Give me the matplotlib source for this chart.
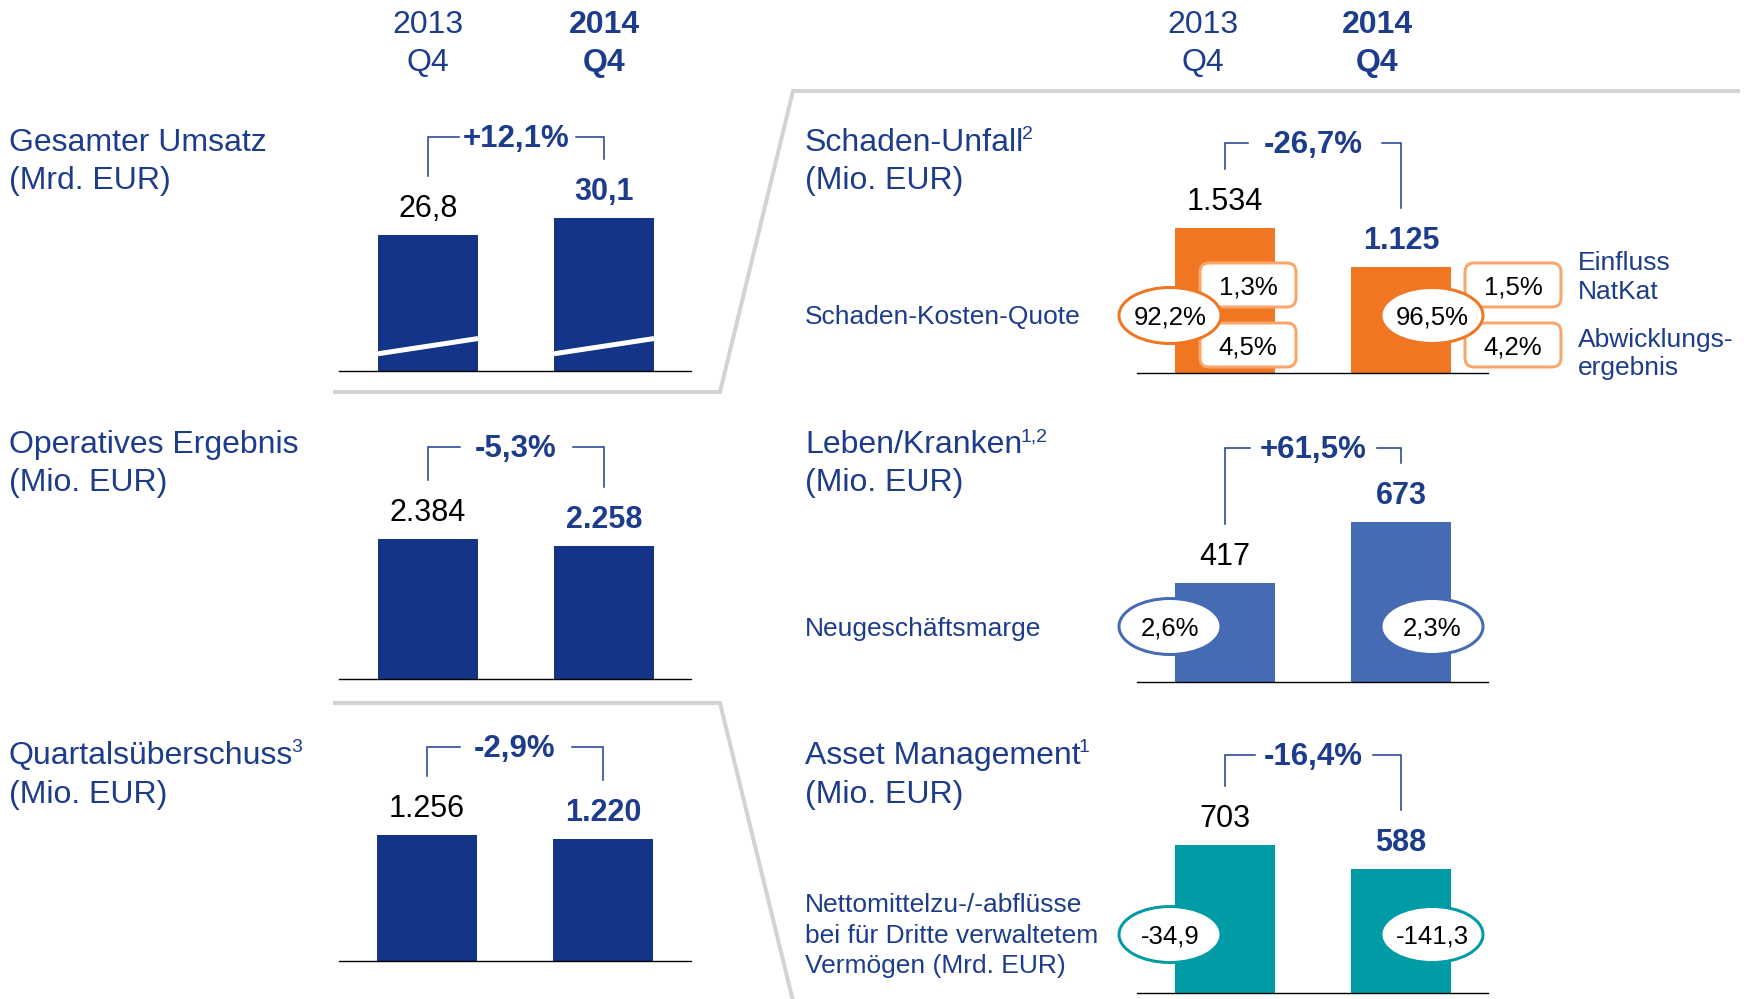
import matplotlib
matplotlib.use("Agg")
import matplotlib.pyplot as plt
from matplotlib.patches import Ellipse, FancyBboxPatch

plt.rcParams["font.family"] = ["Liberation Sans", "DejaVu Sans"]

# ---------------- data ----------------
periods = ["2013", "2014"]
quarter = "Q4"

revenue_values = [26.8, 30.1]
revenue_labels = ["26,8", "30,1"]
revenue_change = "+12,1%"

operating_values = [2384, 2258]
operating_labels = ["2.384", "2.258"]
operating_change = "-5,3%"

netincome_values = [1256, 1220]
netincome_labels = ["1.256", "1.220"]
netincome_change = "-2,9%"

pc_values = [1534, 1125]
pc_labels = ["1.534", "1.125"]
pc_change = "-26,7%"
pc_combined_ratio = ["92,2%", "96,5%"]
pc_natcat = ["1,3%", "1,5%"]
pc_runoff = ["4,5%", "4,2%"]

lh_values = [417, 673]
lh_labels = ["417", "673"]
lh_change = "+61,5%"
lh_nbm = ["2,6%", "2,3%"]

am_values = [703, 588]
am_labels = ["703", "588"]
am_change = "-16,4%"
am_flows = ["-34,9", "-141,3"]

# ---------------- style ----------------
W, H, DPI = 1747, 999, 100
NAVY = "#133487"
TXT = "#1d3c8c"
LIFE = "#456bb4"
ORANGE = "#f07621"
ORANGE_LIGHT = "#f9a66a"
TEAL = "#009ca6"
GRAY = "#d3d3d3"
CAP = 0.716


def pt(p):
    return p * 72 / DPI


fig = plt.figure(figsize=(W / DPI, H / DPI), dpi=DPI)
fig.patch.set_facecolor("white")


def bar_axes(x0, x1, c1, c2, base, ppu, values, color):
    axh = 230
    ax = fig.add_axes([x0 / W, (H - base) / H, (x1 - x0) / W, axh / H])
    span = c2 - c1
    ax.set_xlim(-(c1 - x0) / span, 1 + (x1 - c2) / span)
    ax.set_ylim(0, axh / ppu)
    bw = 100 / span
    ax.bar([0, 1], values, width=bw, color=color, linewidth=0, zorder=2)
    ax.axhline(0, color="black", lw=1.0, zorder=3, clip_on=False)
    ax.axis("off")
    ax.patch.set_alpha(0)
    return ax, bw


def value_labels(ax, values, labels):
    for i, (v, lab) in enumerate(zip(values, labels)):
        ax.annotate(lab, (i, v), xytext=(0, pt(18)), textcoords="offset points",
                    ha="center", va="baseline", fontsize=22,
                    color="black" if i == 0 else TXT,
                    fontweight="normal" if i == 0 else "bold",
                    annotation_clip=False)


ax1, bw1 = bar_axes(339, 691, 428, 604, 370.5, 5.07, revenue_values, NAVY)
for i in range(2):
    ax1.plot([i - bw1 / 2, i + bw1 / 2], [3.3, 6.3], color="white", lw=pt(5),
             solid_capstyle="butt", zorder=4)
value_labels(ax1, revenue_values, revenue_labels)

ax2, _ = bar_axes(339, 691, 428, 604, 679, 0.0587, operating_values, NAVY)
value_labels(ax2, operating_values, operating_labels)

ax3, _ = bar_axes(339, 691, 427, 603, 961, 0.100, netincome_values, NAVY)
value_labels(ax3, netincome_values, netincome_labels)

ax4, _ = bar_axes(1137, 1488, 1225, 1401, 373, 0.0945, pc_values, ORANGE)
value_labels(ax4, pc_values, pc_labels)

ax5, _ = bar_axes(1137, 1488, 1225, 1401, 682, 0.2374, lh_values, LIFE)
value_labels(ax5, lh_values, lh_labels)

ax6, _ = bar_axes(1137, 1488, 1225, 1401, 993, 0.2105, am_values, TEAL)
value_labels(ax6, am_values, am_labels)

# ---------------- overlay ----------------
ov = fig.add_axes([0, 0, 1, 1])
ov.set_xlim(0, W)
ov.set_ylim(H, 0)
ov.axis("off")
ov.patch.set_alpha(0)


def text(x, base, s, size, color=TXT, weight="normal", ha="left"):
    return ov.text(x, base, s, fontsize=size, color=color, fontweight=weight,
                   ha=ha, va="baseline")


def cap_base(yc, size):
    return yc + CAP * size * DPI / 72 / 2


def sup(t, s, base, size_main, size=14):
    top = base - CAP * size_main * DPI / 72
    ov.annotate(s, xy=(1.0, top - 2), xycoords=(t, "data"), xytext=(-1.5, 0),
                textcoords="offset points", ha="left", va="top",
                fontsize=size, color=TXT)


def top_px(ax, i, v):
    x, y = ax.transData.transform((i, v))
    return x, H - y


def bracket(ax, values, change, ybr, segl, segr):
    xa, ta = top_px(ax, 0, values[0])
    xb, tb = top_px(ax, 1, values[1])
    gap = 59
    ov.plot([xa, xa, xa + segl], [ta - gap, ybr, ybr], color=TXT, lw=1.1,
            solid_joinstyle="miter")
    ov.plot([xb - segr, xb, xb], [ybr, ybr, tb - gap], color=TXT, lw=1.1,
            solid_joinstyle="miter")
    text((xa + xb) / 2, cap_base(ybr, 22.5) - 1, change, 22.5, weight="bold", ha="center")


bracket(ax1, revenue_values, revenue_change, 137, 31, 28)
bracket(ax2, operating_values, operating_change, 447, 32, 31)
bracket(ax3, netincome_values, netincome_change, 747, 33, 31)
bracket(ax4, pc_values, pc_change, 143, 23, 19)
bracket(ax5, lh_values, lh_change, 448, 25, 24)
bracket(ax6, am_values, am_change, 755, 30, 28)

# headers
for xs in ([428, 604], [1203, 1377]):
    for x, p, wt in zip(xs, periods, ["normal", "bold"]):
        text(x, 33, p, 23, weight=wt, ha="center")
        text(x, 71, quarter, 23, weight=wt, ha="center")

# titles left
text(9, 151, "Gesamter Umsatz", 23)
text(9, 189, "(Mrd. EUR)", 23)
text(9, 453, "Operatives Ergebnis", 23)
text(9, 491, "(Mio. EUR)", 23)
t = text(9, 764, "Quartalsüberschuss", 23)
sup(t, "3", 764, 23)
text(9, 803, "(Mio. EUR)", 23)

# titles right
t = text(805, 151, "Schaden-Unfall", 23)
sup(t, "2", 151, 23)
text(805, 189, "(Mio. EUR)", 23)
t = text(805, 453, "Leben/Kranken", 23)
sup(t, "1,2", 453, 23)
text(805, 491, "(Mio. EUR)", 23)
t = text(805, 764, "Asset Management", 23)
sup(t, "1", 764, 23)
text(805, 803, "(Mio. EUR)", 23)

# side labels
text(805, 324, "Schaden-Kosten-Quote", 19)
text(805, 636, "Neugeschäftsmarge", 19)
text(805, 912, "Nettomittelzu-/-abflüsse", 19)
text(805, 943, "bei für Dritte verwaltetem", 19)
text(805, 973, "Vermögen (Mrd. EUR)", 19)

text(1578, 270, "Einfluss", 19)
text(1578, 299, "NatKat", 19)
text(1578, 347, "Abwicklungs-", 19)
text(1578, 375, "ergebnis", 19)

# gray frames
ov.plot([333, 720, 793, 1740], [392, 392, 91, 91], color=GRAY, lw=pt(4),
        solid_joinstyle="miter", solid_capstyle="butt")
ov.plot([333, 720, 794], [703, 703, 1005], color=GRAY, lw=pt(4),
        solid_joinstyle="miter", solid_capstyle="butt")

# rounded boxes (NatKat / run-off)
for bx, nat, run in zip([1200, 1465], pc_natcat, pc_runoff):
    for by, s in zip([263, 323], [nat, run]):
        ov.add_patch(FancyBboxPatch((bx, by), 96, 44,
                                    boxstyle="round,pad=0,rounding_size=9",
                                    facecolor="white", edgecolor=ORANGE_LIGHT,
                                    lw=pt(3), zorder=3))
        text(bx + 48, cap_base(by + 22, 18.5), s, 18.5, color="black", ha="center").set_zorder(4)


def ellipses(yc, labels, color):
    for cx, s in zip([1170, 1432], labels):
        ov.add_patch(Ellipse((cx, yc), 102, 56, facecolor="white",
                             edgecolor=color, lw=pt(3), zorder=5))
        text(cx, cap_base(yc, 18.5), s, 18.5, color="black", ha="center").set_zorder(6)


ellipses(315.5, pc_combined_ratio, ORANGE)
ellipses(626.5, lh_nbm, LIFE)
ellipses(934.5, am_flows, TEAL)

fig.savefig("out.png", dpi=DPI, facecolor="white")
